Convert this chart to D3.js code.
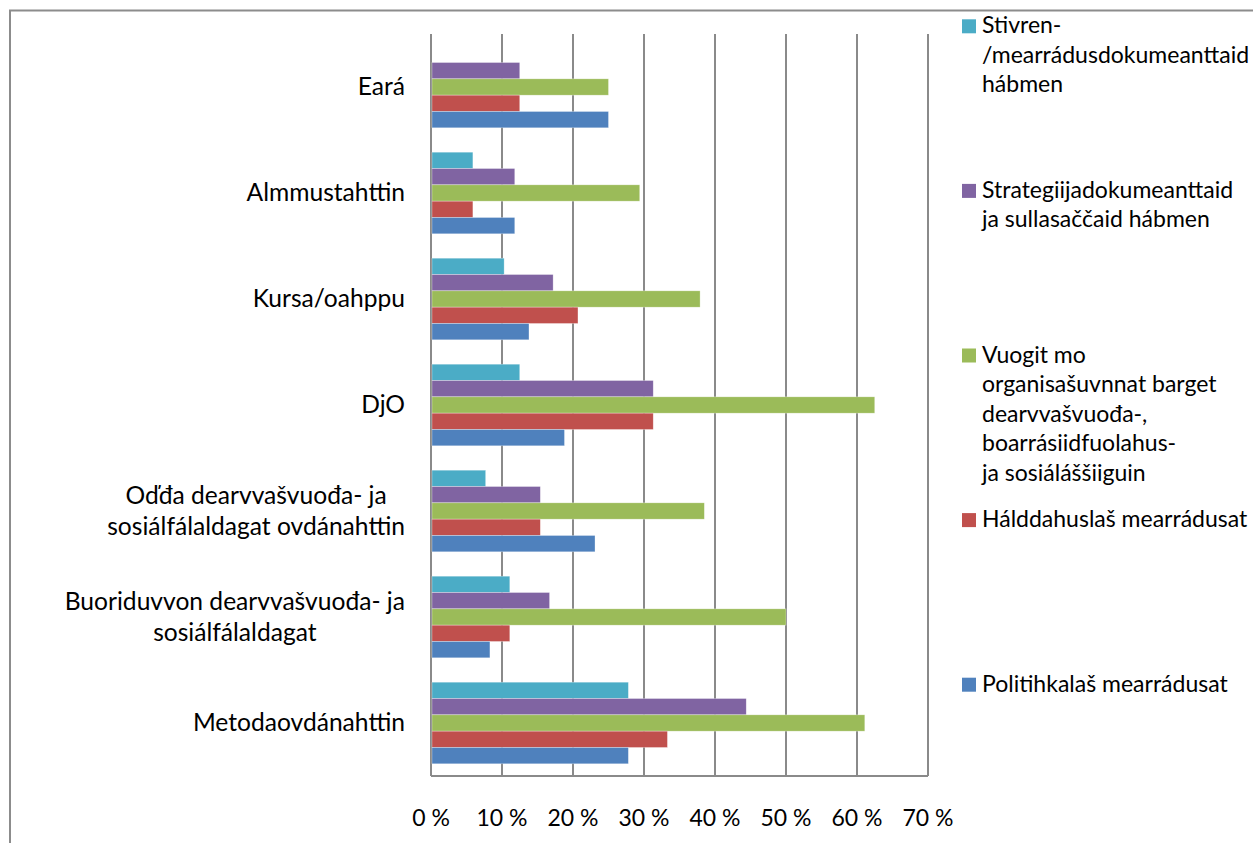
<!DOCTYPE html>
<html>
<head>
<meta charset="utf-8">
<script src="https://cdn.jsdelivr.net/npm/d3@7"></script>
<style>
  body { margin: 0; background: #fff; }
  text { font-family: Lato, "Open Sans", sans-serif; fill: #000; }
</style>
</head>
<body>
<svg id="chart" width="1253" height="843"></svg>
<script>
// categories, top to bottom as drawn (lines of the wrapped label)
var categories = [
  ["Eará"],
  ["Almmustahttin"],
  ["Kursa/oahppu"],
  ["DjO"],
  ["Oďđa dearvvašvuođa- ja", "sosiálfálaldagat ovdánahttin"],
  ["Buoriduvvon dearvvašvuođa- ja", "sosiálfálaldagat"],
  ["Metodaovdánahttin"]
];
// series, top to bottom inside each group
var seriesNames = [
  ["Stivren-", "/mearrádusdokumeanttaid", "hábmen"],
  ["Strategiijadokumeanttaid", "ja sullasaččaid hábmen"],
  ["Vuogit mo", "organisašuvnnat barget", "dearvvašvuođa-,", "boarrásiidfuolahus-", "ja sosiáláššiiguin"],
  ["Hálddahuslaš mearrádusat"],
  ["Politihkalaš mearrádusat"]
];
var seriesColors = ["#4BACC6", "#8064A2", "#9BBB59", "#C0504D", "#4F81BD"];
// values in %, one array per series, same order as categories
var stivren    = [0, 5.9, 10.3, 12.5, 7.7, 11.1, 27.8];
var strategii  = [12.5, 11.8, 17.2, 31.3, 15.4, 16.7, 44.4];
var vuogit     = [25, 29.4, 37.9, 62.5, 38.5, 50, 61.1];
var halddahus  = [12.5, 5.9, 20.7, 31.3, 15.4, 11.1, 33.3];
var politihka  = [25, 11.8, 13.8, 18.8, 23.1, 8.3, 27.8];
var seriesValues = [stivren, strategii, vuogit, halddahus, politihka];
var xTicks = [0, 10, 20, 30, 40, 50, 60, 70];

var svg = d3.select("#chart");
var fontSize = 23;
var catFontSize = 24.6;
var gridColor = "#8a8a8a";

// outer chart frame (cut off on the right and bottom)
svg.append("rect")
  .attr("x", 10).attr("y", 10.5)
  .attr("width", 1400).attr("height", 1000)
  .attr("fill", "none")
  .attr("stroke", "#8c8c8c")
  .attr("stroke-width", 2);

var xScale = d3.scaleLinear().domain([0, 70]).range([431, 928]);
var yScale = d3.scaleBand()
  .domain(d3.range(categories.length))
  .range([34, 776])
  .paddingInner(0.23)
  .paddingOuter(0.115);
var inner = d3.scaleBand()
  .domain(d3.range(seriesNames.length))
  .range([0, yScale.bandwidth()]);

// grid lines
svg.append("g")
  .selectAll("line")
  .data(xTicks)
  .join("line")
  .attr("x1", d => xScale(d)).attr("x2", d => xScale(d))
  .attr("y1", 34).attr("y2", 776)
  .attr("stroke", gridColor)
  .attr("stroke-width", 2);

// bottom line
svg.append("line")
  .attr("x1", xScale(0)).attr("x2", xScale(70))
  .attr("y1", 776).attr("y2", 776)
  .attr("stroke", gridColor)
  .attr("stroke-width", 2);

// bars
var groups = svg.append("g")
  .selectAll("g")
  .data(categories.map((c, i) => i))
  .join("g")
  .attr("transform", d => "translate(0," + yScale(d) + ")");

groups.selectAll("rect")
  .data(ci => seriesValues.map((vals, si) => ({si: si, v: vals[ci]})))
  .join("rect")
  .attr("x", xScale(0) + 1)
  .attr("y", d => inner(d.si))
  .attr("width", d => Math.max(0, xScale(d.v) - xScale(0) - 1))
  .attr("height", inner.bandwidth())
  .attr("fill", d => seriesColors[d.si])
  .attr("stroke", "#ffffff")
  .attr("stroke-opacity", 0.5)
  .attr("stroke-width", 0.6)
  .attr("display", d => d.v > 0 ? null : "none");

// category labels
var lineGap = 31;
var labels = svg.append("g")
  .selectAll("g")
  .data(categories)
  .join("g")
  .attr("transform", (d, i) => "translate(0," + (yScale(i) + yScale.bandwidth() / 2) + ")");
labels.each(function(lines) {
  var g = d3.select(this);
  var t = g.selectAll("text")
    .data(lines)
    .join("text")
    .attr("y", (l, k) => 8 + (k - (lines.length - 1) / 2) * lineGap)
    .attr("font-size", catFontSize)
    .text(l => l);
  // block right aligned at 405, lines centred within the block
  var widths = t.nodes().map(n => n.getComputedTextLength());
  var w = d3.max(widths);
  t.attr("x", 405 - w / 2).attr("text-anchor", "middle");
});

// x axis labels
svg.append("g")
  .selectAll("text")
  .data(xTicks)
  .join("text")
  .attr("x", d => xScale(d))
  .attr("y", 826)
  .attr("text-anchor", "middle")
  .attr("font-size", fontSize)
  .text(d => d + " %");

// legend
var legendY = d3.scaleLinear().domain([0, 4]).range([26.3, 684.7]);
var legend = svg.append("g")
  .selectAll("g")
  .data(seriesNames)
  .join("g")
  .attr("transform", (d, i) => "translate(962," + legendY(i) + ")");
legend.append("rect")
  .attr("x", 0).attr("y", -7)
  .attr("width", 14).attr("height", 14)
  .attr("fill", (d, i) => seriesColors[i]);
legend.each(function(lines) {
  d3.select(this).selectAll("text")
    .data(lines)
    .join("text")
    .attr("x", 20)
    .attr("y", (l, k) => 7 + k * 29.6)
    .attr("font-size", fontSize)
    .text(l => l);
});
</script>
</body>
</html>
